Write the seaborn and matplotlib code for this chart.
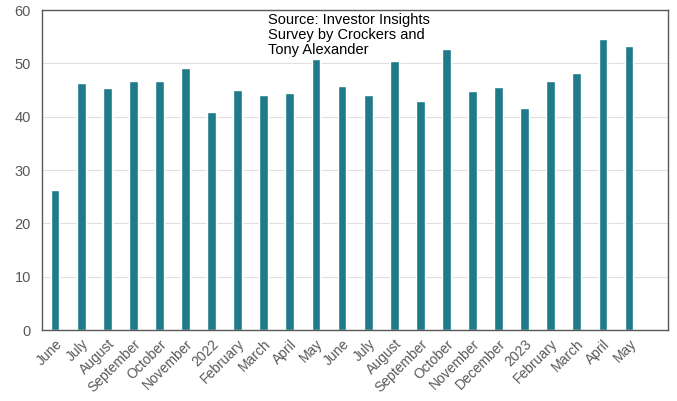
import numpy as np
import pandas as pd
import matplotlib
matplotlib.use("Agg")
import matplotlib.pyplot as plt
import seaborn as sns

# Month labels as shown on the x axis (year marks replace January)
months = ["June", "July", "August", "September", "October", "November", "2022",
          "February", "March", "April", "May", "June", "July", "August",
          "September", "October", "November", "December", "2023", "February",
          "March", "April", "May"]
# Values
values = [26.3, 46.3, 45.4, 46.6, 46.6, 49.1, 40.8, 45.0, 44.0, 44.4, 50.9,
          45.7, 44.1, 50.5, 42.9, 52.6, 44.9, 45.6, 41.7, 46.7, 48.2, 54.6, 53.2]

df = pd.DataFrame({"pos": np.arange(len(months)), "value": values})

sns.set_theme(style="white")
plt.rcParams['font.family'] = ['Liberation Sans', 'DejaVu Sans']

fig = plt.figure(figsize=(6.77, 4.01), dpi=100)
ax = fig.add_axes([0.062, 0.177, 0.925, 0.798])

sns.barplot(data=df, x="pos", y="value", color="#1F7A8A", saturation=1,
            width=0.34, ax=ax)

ax.set_xlim(-0.5, len(months) + 0.5)
ax.set_ylim(0, 60)
ax.set_yticks(range(0, 61, 10))
ax.set_xticks(range(len(months)))
ax.set_xticklabels(months, rotation=45, ha="right", rotation_mode="anchor",
                   fontsize=10, color="#595959")
ax.tick_params(axis="y", labelsize=10.5, labelcolor="#595959", length=0, pad=8)
ax.tick_params(axis="x", length=0, pad=5)
ax.set_xlabel("")
ax.set_ylabel("")
ax.yaxis.grid(True, color="#e0e0e0", linewidth=0.8)
ax.set_axisbelow(True)
for s in ax.spines.values():
    s.set_color("#595959")
    s.set_linewidth(1.0)

ax.text(0.361, 0.99, "Source: Investor Insights\nSurvey by Crockers and\nTony Alexander",
        transform=ax.transAxes, ha="left", va="top", fontsize=10.5,
        color="black", linespacing=1.1)

fig.savefig("out.png", dpi=100)
